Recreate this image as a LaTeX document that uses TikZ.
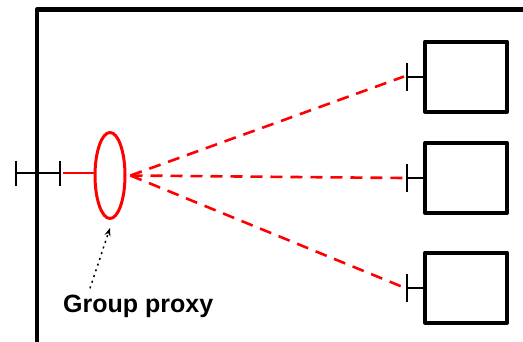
\documentclass[tikz,border=0pt]{standalone}
\usepackage{fontspec}
\setmainfont{Liberation Sans}
\usetikzlibrary{shapes.geometric,arrows.meta}
\begin{document}
\begin{tikzpicture}[x=1pt, y=-1pt, line join=round, >={Stealth[length=8pt,width=6pt]},
	port/.style={draw=black, line width=2pt},
	member/.style={draw, line width=4pt, minimum width=82pt, minimum height=70pt, inner sep=0pt},
	link/.style={red, line width=2.6pt, dash pattern=on 12pt off 8pt}]
	\def \barh{12.5pt}
	\useasboundingbox (0,0) rectangle (523,341);
	\clip (0,0) rectangle (523,341);
	% container
	\draw[line width=4.5pt] (37,350) -- (37,9.5) -- (530,9.5);
	% members
	\node[member] (box1) at (466,76.5) {};
	\node[member] (box2) at (466,178) {};
	\node[member] (box3) at (466,287.5) {};
	% group proxy
	\node[ellipse, draw=red, line width=3pt, minimum width=30pt, minimum height=86pt,
		inner sep=0pt] (prox) at (110,175.5) {};
	\coordinate (wall) at (37,173);
	\draw[port] (wall) -- (16,173) coordinate (outp);
	\draw[port] ([yshift=\barh]outp) -- ([yshift=-\barh]outp);
	\draw[port] (wall) -- (60,173) coordinate (inp);
	\draw[port] ([yshift=\barh]inp) -- ([yshift=-\barh]inp);
	\draw[red, line width=2pt] ([xshift=3pt]inp) -- (prox.west |- inp);
	\foreach \n in {1,2,3}{
		\draw[port] (box\n.west) -- ++(-16,0) coordinate (bp\n);
		\draw[port] ([yshift=14pt]bp\n) -- ([yshift=-14pt]bp\n);
		\draw[link] ([xshift=4pt]prox.east) -- ([xshift=-3pt]bp\n);
	}
	% label
	\node[anchor=base west, inner sep=0pt, font=\bfseries\fontsize{25}{29}\selectfont]
		(lab) at (63,312) {Group proxy};
	\draw[->, line width=1.5pt, dash pattern=on 2pt off 4pt]
		([xshift=27pt, yshift=6pt]lab.north west) -- ([yshift=-8pt]prox.south);
\end{tikzpicture}
\end{document}
